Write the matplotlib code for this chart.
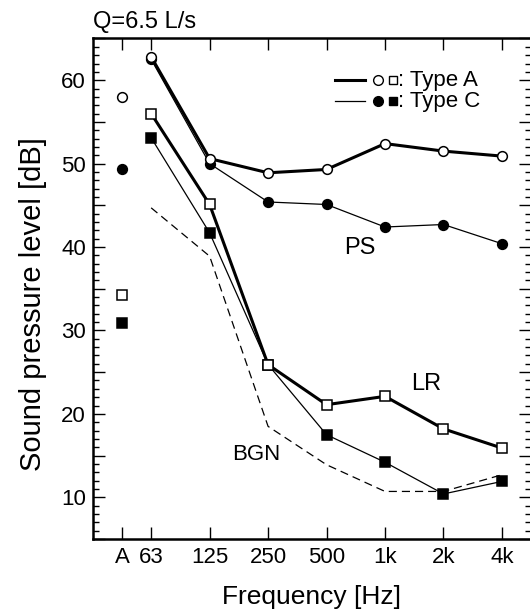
import numpy as np
import matplotlib
matplotlib.use("Agg")
import matplotlib.pyplot as plt
from matplotlib.ticker import MultipleLocator, FuncFormatter
from matplotlib.lines import Line2D

plt.rcParams['font.family'] = ['Liberation Sans', 'DejaVu Sans']

# === Data ===
bands = ["A", "63", "125", "250", "500", "1k", "2k", "4k"]
band_pos = [-0.5, 0, 1, 2, 3, 4, 5, 6]

# PS (circles)
ps_type_a = [58.0, 62.8, 50.6, 48.9, 49.3, 52.4, 51.5, 50.9]
ps_type_c = [49.3, 62.5, 50.0, 45.4, 45.1, 42.4, 42.7, 40.4]
# LR (squares)
lr_type_a = [34.2, 56.0, 45.1, 25.9, 21.1, 22.1, 18.2, 15.9]
lr_type_c = [30.9, 53.1, 41.7, 25.9, 17.5, 14.2, 10.4, 11.9]
# background noise (octave bands only)
bgn_pos = [0, 1, 2, 3, 4, 5, 6]
bgn = [44.7, 38.9, 18.5, 13.9, 10.7, 10.7, 12.7]

fig = plt.figure(figsize=(5.3, 6.12), dpi=100)
ax = fig.add_axes([0.1749, 0.1193, 0.8273, 0.8178])

def draw(vals, marker, lw, face, z):
    # A-weighted value is a lone marker, octave bands joined by a line
    ms = 7 if marker == "o" else 6.5
    ax.plot(band_pos[1:], vals[1:], color="black", lw=lw, marker=marker,
            markersize=ms, markerfacecolor=face,
            markeredgecolor="black", markeredgewidth=1.1, zorder=z)
    ax.plot(band_pos[0], vals[0], linestyle="none", marker=marker,
            markersize=ms, markerfacecolor=face,
            markeredgecolor="black", markeredgewidth=1.1, zorder=z)

ax.plot(bgn_pos, bgn, color="black", lw=0.9, linestyle=(0, (6.5, 4)), zorder=1)
draw(ps_type_c, "o", 0.9, "black", 2)
draw(lr_type_c, "s", 0.9, "black", 2)
draw(ps_type_a, "o", 2.2, "white", 3)
draw(lr_type_a, "s", 2.2, "white", 3)

ax.text(3.57, 39.9, "PS", fontsize=17, ha="center", va="center")
ax.text(4.70, 23.6, "LR", fontsize=17, ha="center", va="center")
ax.text(1.79, 15.1, "BGN", fontsize=16, ha="center", va="center")

# === hand-made legend ===
tr = ax.transAxes
for yy, lw, face, lab in [(0.917, 2.2, "white", ": Type A"), (0.875, 0.9, "black", ": Type C")]:
    ax.add_line(Line2D([0.553, 0.620], [yy, yy], color="black", lw=lw, transform=tr))
    ax.add_line(Line2D([0.651], [yy], marker="o", markersize=7, markerfacecolor=face,
                       markeredgecolor="black", markeredgewidth=1.0, transform=tr))
    ax.add_line(Line2D([0.686], [yy], marker="s", markersize=6, markerfacecolor=face,
                       markeredgecolor="black", markeredgewidth=1.0, transform=tr))
    ax.text(0.697, yy, lab, fontsize=16, ha="left", va="center", transform=tr)

# === axes ===
ax.set_xlim(-1, 6.5)
ax.set_ylim(5, 65)
ax.set_xticks(band_pos)
ax.set_xticklabels(bands)
ax.yaxis.set_major_locator(MultipleLocator(5))
ax.yaxis.set_minor_locator(MultipleLocator(1))
ax.yaxis.set_major_formatter(FuncFormatter(lambda v, p: f"{int(v)}" if v % 10 == 0 else ""))
ax.tick_params(axis="both", which="both", direction="in", top=True, right=True,
               labelsize=16, width=1.0)
ax.tick_params(axis="x", which="major", length=8.5, pad=6)
ax.tick_params(axis="y", which="major", length=8.5, pad=5)
ax.tick_params(axis="y", which="minor", length=4.5)
for s in ax.spines.values():
    s.set_linewidth(1.8)

ax.set_xlabel("Frequency [Hz]", fontsize=19, labelpad=12)
ax.set_ylabel("Sound pressure level [dB]", fontsize=21)
ax.yaxis.set_label_coords(-0.105, 0.47)
fig.text(0.1749, 0.954, "Q=6.5 L/s", fontsize=17, ha="left", va="baseline")

fig.savefig("out.png", dpi=100)
